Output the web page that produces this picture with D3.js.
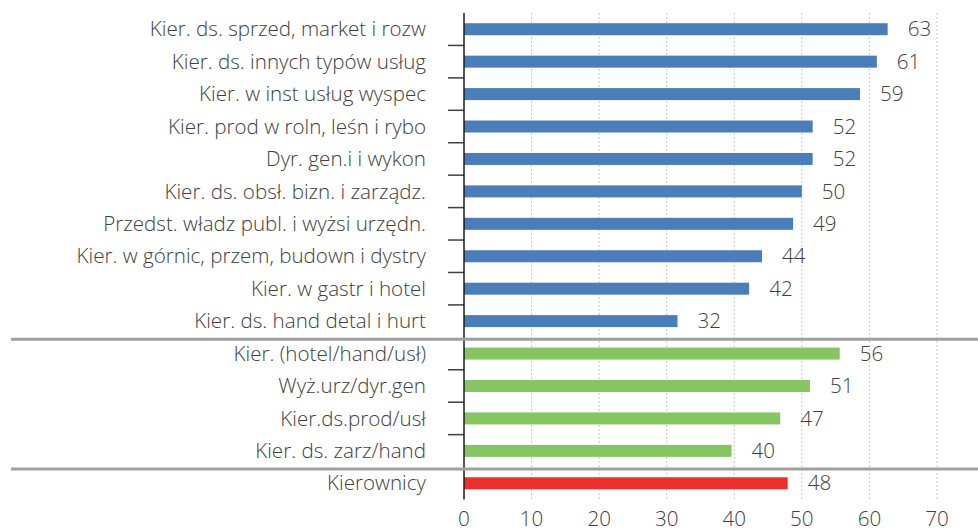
<!DOCTYPE html>
<html>
<head>
<meta charset="utf-8">
<script src="https://cdn.jsdelivr.net/npm/d3@7"></script>
<style>
  body { margin: 0; background: #fff; }
  svg { display: block; }
</style>
</head>
<body>
<div id="chart"></div>
<script>

// Data
const categories = [
  "Kier. ds. sprzed, market i rozw",
  "Kier. ds. innych typów usług",
  "Kier. w inst usług wyspec",
  "Kier. prod w roln, leśn i rybo",
  "Dyr. gen.i i wykon",
  "Kier. ds. obsł. bizn. i zarządz.",
  "Przedst. władz publ. i wyżsi urzędn.",
  "Kier. w górnic, przem, budown i dystry",
  "Kier. w gastr i hotel",
  "Kier. ds. hand detal i hurt",
  "Kier. (hotel/hand/usł)",
  "Wyż.urz/dyr.gen",
  "Kier.ds.prod/usł",
  "Kier. ds. zarz/hand",
  "Kierownicy"
];
const values = [62.7, 61.1, 58.6, 51.6, 51.6, 50.0, 48.7, 44.1, 42.2, 31.6, 55.6, 51.2, 46.8, 39.6, 47.9];
const groups = ["det", "det", "det", "det", "det", "det", "det", "det", "det", "det",
                "mid", "mid", "mid", "mid", "all"];
const xTicks = [0, 10, 20, 30, 40, 50, 60, 70];

// Dimensions
const width = 978;
const height = 532;
const font = "'Open Sans', 'Noto Sans', sans-serif";
const fontSize = 20.6;
const textColor = "#404040";

const color = d3.scaleOrdinal(["det", "mid", "all"], ["#4a7ebb", "#86c662", "#ee2e2b"]);

const x = d3.scaleLinear().domain([0, 70]).range([464, 937]);
const y = d3.scaleBand()
  .domain(categories)
  .range([13, 499.5])
  .paddingInner(0.63)
  .paddingOuter(0.315);

const rows = categories.map((c, i) => ({ name: c, value: values[i], group: groups[i] }));

const svg = d3.select("#chart").append("svg")
  .attr("width", width)
  .attr("height", height)
  .attr("font-family", font);

// gridlines
svg.append("g")
  .selectAll("line")
  .data(xTicks.slice(1))
  .join("line")
  .attr("x1", d => x(d)).attr("x2", d => x(d))
  .attr("y1", 13).attr("y2", 499)
  .attr("stroke", "#c8c8c8")
  .attr("stroke-dasharray", "2,2");

// bars
svg.append("g")
  .selectAll("rect")
  .data(rows)
  .join("rect")
  .attr("x", x(0))
  .attr("y", d => y(d.name))
  .attr("width", d => x(d.value) - x(0))
  .attr("height", y.bandwidth())
  .attr("fill", d => color(d.group));

// value labels
const fmt = d3.format(".0f");
svg.append("g")
  .selectAll("text")
  .data(rows)
  .join("text")
  .attr("x", d => x(d.value) + 20)
  .attr("y", d => y(d.name) + y.bandwidth() / 2)
  .attr("dy", "0.35em")
  .attr("font-size", fontSize)
  .attr("font-weight", 300)
  .attr("fill", textColor)
  .text(d => fmt(d.value));

// category axis ticks sit on band boundaries, except where a group changes
const step = y.step();
const boundaries = d3.range(1, categories.length)
  .filter(i => groups[i] === groups[i - 1]);

svg.append("g")
  .selectAll("line")
  .data(boundaries)
  .join("line")
  .attr("x1", 448).attr("x2", x(0))
  .attr("y1", i => 13 + i * step).attr("y2", i => 13 + i * step)
  .attr("stroke", "#404040")
  .attr("stroke-width", 1.5);

svg.append("line")
  .attr("x1", x(0)).attr("x2", x(0))
  .attr("y1", 13).attr("y2", 499.5)
  .attr("stroke", "#1a1a1a")
  .attr("stroke-width", 1.5);

// group separators
const seps = d3.range(1, categories.length)
  .filter(i => groups[i] !== groups[i - 1]);

svg.append("g")
  .selectAll("line")
  .data(seps)
  .join("line")
  .attr("x1", 11).attr("x2", width)
  .attr("y1", i => 13 + i * step + 2).attr("y2", i => 13 + i * step + 2)
  .attr("stroke", "#a0a0a0")
  .attr("stroke-width", 3);

// category labels
svg.append("g")
  .selectAll("text")
  .data(rows)
  .join("text")
  .attr("x", 426)
  .attr("y", d => y(d.name) + y.bandwidth() / 2)
  .attr("dy", "0.35em")
  .attr("text-anchor", "end")
  .attr("font-size", fontSize)
  .attr("font-weight", 300)
  .attr("fill", textColor)
  .text(d => d.name);

// x axis labels
svg.append("g")
  .selectAll("text")
  .data(xTicks)
  .join("text")
  .attr("x", d => x(d))
  .attr("y", 526)
  .attr("text-anchor", "middle")
  .attr("font-size", fontSize)
  .attr("font-weight", 300)
  .attr("fill", textColor)
  .text(d => d);

</script>
</body>
</html>
